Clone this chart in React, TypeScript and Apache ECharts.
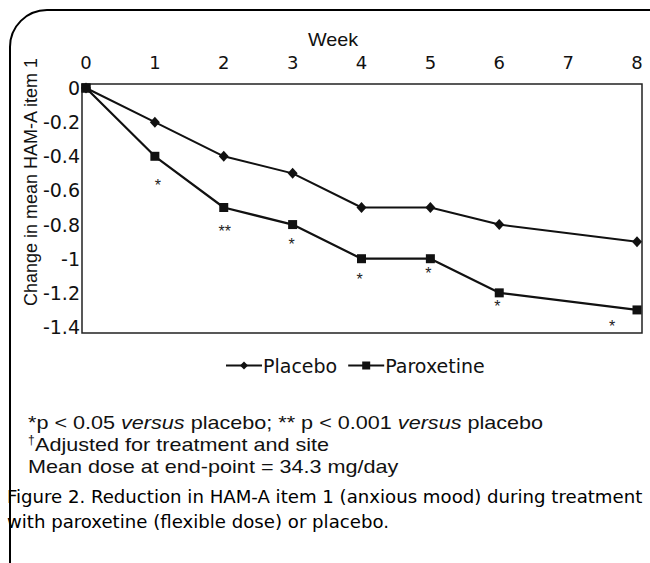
import React, { useEffect, useRef } from "react";
import * as echarts from "echarts";

const weeks = [0, 1, 2, 3, 4, 5, 6, 8];
const placebo = [0, -0.2, -0.4, -0.5, -0.7, -0.7, -0.8, -0.9];
const paroxetine = [0, -0.4, -0.7, -0.8, -1.0, -1.0, -1.2, -1.3];
const stars = ["", "*", "**", "*", "*", "*", "*", "*"];
const starOffsets = [[0, 0], [3, 29], [1, 24], [-1, 20], [-2, 21], [-2, 15], [-2, 14], [-25, 17]];

const xTitle = "Week";
const yTitle = "Change in mean HAM-A item 1";
const foot1a = "*p < 0.05 ";
const foot1b = "versus";
const foot1c = " placebo; ** p < 0.001 ";
const foot1d = "versus";
const foot1e = " placebo";
const foot2 = "Adjusted for treatment and site";
const foot3 = "Mean dose at end-point = 34.3 mg/day";
const caption1 = "Figure 2. Reduction in HAM-A item 1 (anxious mood) during treatment";
const caption2 = "with paroxetine (flexible dose) or placebo.";

const FONT = "Liberation Sans, Arial, sans-serif";
const AXIS_FONT = "DejaVu Sans, Liberation Sans, sans-serif";
const CAP_FONT = "DejaVu Sans Condensed, Liberation Sans Narrow, sans-serif";
const SX = 1.2;

export default function App() {
  const ref = useRef<HTMLDivElement>(null);
  useEffect(() => {
    document.body.style.margin = "0";
    const chart = echarts.init(ref.current!, undefined, { renderer: "svg" });
    const option: any = {
      animation: false,
      backgroundColor: "#fff",
      grid: { left: 86, right: 13, top: 88, bottom: 236 },
      xAxis: {
        type: "value",
        position: "top",
        min: 0,
        max: 8,
        interval: 1,
        axisLine: { show: false },
        axisTick: { show: false },
        splitLine: { show: false },
        axisLabel: { color: "#111", fontFamily: AXIS_FONT, fontSize: 18, margin: 17 },
      },
      yAxis: {
        type: "value",
        min: -1.4,
        max: 0,
        interval: 0.2,
        axisLine: { show: false },
        axisTick: { show: false },
        splitLine: { show: false },
        axisLabel: { color: "#111", fontFamily: AXIS_FONT, fontSize: 19, margin: 6, padding: [6, 0, 0, 0] },
      },
      legend: {
        top: 356,
        left: 225,
        padding: 0,
        itemWidth: 36,
        itemHeight: 10,
        itemGap: 10,
        textStyle: { color: "#111", fontFamily: AXIS_FONT, fontSize: 19, padding: [0, 0, 0, -4] },
        data: ["Placebo", "Paroxetine"],
      },
      series: [
        {
          name: "Placebo",
          type: "line",
          data: weeks.map((w, i) => [w, placebo[i]]),
          symbol: "diamond",
          symbolSize: [10, 11],
          color: "#111",
          lineStyle: { color: "#111", width: 2 },
          itemStyle: { color: "#111" },
          z: 2,
        },
        {
          name: "Paroxetine",
          type: "line",
          data: weeks.map((w, i) =>
            i === 0
              ? { value: [w, paroxetine[i]], label: { show: false } }
              : {
                  value: [w, paroxetine[i]],
                  label: {
                    show: stars[i] !== "",
                    formatter: stars[i],
                    offset: starOffsets[i],
                  },
                }
          ),
          symbol: "rect",
          symbolSize: 9,
          color: "#111",
          lineStyle: { color: "#111", width: 2.2 },
          itemStyle: { color: "#111" },
          label: {
            position: "inside",
            align: "center",
            verticalAlign: "middle",
            color: "#222",
            fontFamily: FONT,
            fontSize: 16,
          },
          z: 3,
        },
        {
          name: "ParoxetineStart",
          type: "line",
          data: weeks.slice(0, 2).map((w, i) => ({
            value: [w, paroxetine[i]],
            symbol: i === 0 ? "rect" : "none",
          })),
          symbolSize: 9,
          showAllSymbol: true,
          lineStyle: { color: "#111", width: 1 },
          itemStyle: { color: "#111" },
          z: 3,
        },
      ],
      graphic: [
        {
          type: "rect",
          shape: { x: 10, y: 10, width: 900, height: 900, r: [37, 0, 0, 0] },
          style: { fill: "none", stroke: "#000", lineWidth: 2 },
          silent: true,
        },
        {
          type: "rect",
          shape: { x: 82, y: 84, width: 560, height: 249 },
          style: { fill: "none", stroke: "#222", lineWidth: 1.5 },
          silent: true,
          z: 0,
        },
        {
          type: "text",
          x: 333,
          y: 40,
          scaleX: 1.1,
          style: { text: xTitle, font: `18px ${FONT}`, fill: "#111", align: "center", verticalAlign: "middle" },
        },
        {
          type: "text",
          x: 31,
          y: 182,
          rotation: Math.PI / 2,
          style: { text: yTitle, font: `18px ${FONT}`, fill: "#111", align: "center", verticalAlign: "middle" },
        },
        {
          type: "text",
          x: 28,
          y: 423,
          scaleX: SX,
          style: {
            text: `{n|${foot1a}}{i|${foot1b}}{n|${foot1c}}{i|${foot1d}}{n|${foot1e}}`,
            verticalAlign: "middle",
            rich: {
              n: { font: `18px ${FONT}`, fill: "#111" },
              i: { font: `italic 18px ${FONT}`, fill: "#111" },
            },
          },
        },
        {
          type: "text",
          x: 28,
          y: 440,
          style: { text: "†", font: `12px ${FONT}`, fill: "#111", verticalAlign: "middle" },
        },
        {
          type: "text",
          x: 35,
          y: 445,
          scaleX: SX,
          style: { text: foot2, font: `18px ${FONT}`, fill: "#111", verticalAlign: "middle" },
        },
        {
          type: "text",
          x: 28,
          y: 467,
          scaleX: SX,
          style: { text: foot3, font: `18px ${FONT}`, fill: "#111", verticalAlign: "middle" },
        },
        {
          type: "text",
          x: 7,
          y: 497,
          scaleX: 1.12,
          style: { text: caption1, font: `18px ${CAP_FONT}`, fill: "#000", verticalAlign: "middle" },
        },
        {
          type: "text",
          x: 7,
          y: 522,
          scaleX: 1.12,
          style: { text: caption2, font: `18px ${CAP_FONT}`, fill: "#000", verticalAlign: "middle" },
        },
      ],
    };
    chart.setOption(option);
    return () => chart.dispose();
  }, []);
  return <div ref={ref} style={{ width: 650, height: 563 }} />;
}
